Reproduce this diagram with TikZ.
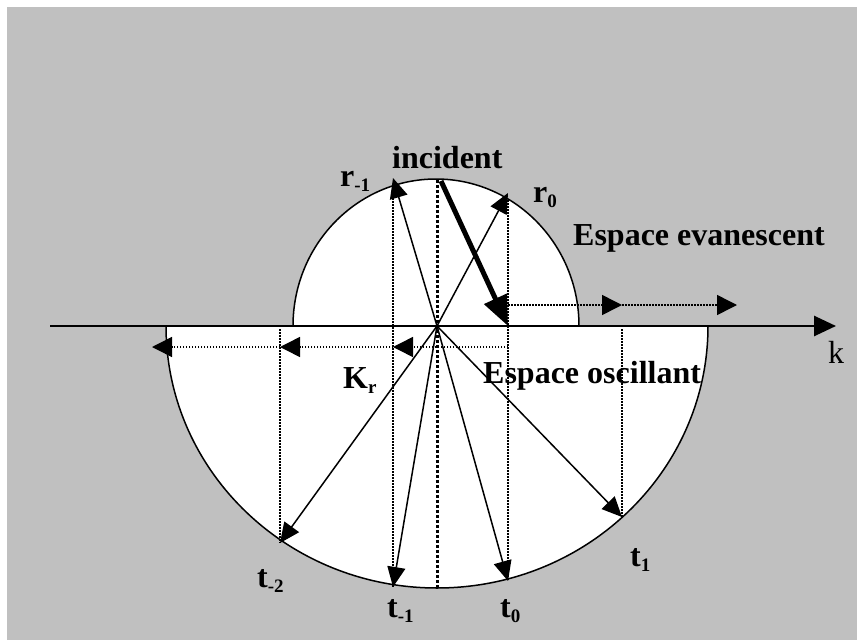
\documentclass[tikz,border=0pt]{standalone}
\usepackage{fontspec}
\setmainfont{Liberation Serif}
\usetikzlibrary{arrows.meta}
\definecolor{panelgray}{HTML}{C0C0C0}
\newcommand{\lbl}[2]{#1\raisebox{-5pt}{\fontsize{19}{20}\selectfont #2}}

\begin{document}
\begin{tikzpicture}[x=1pt,y=-1pt,
  vec/.style={line width=1.5pt,-{Triangle[length=20pt,width=18pt]}},
  proj/.style={line width=1.5pt,dash pattern=on 1.5pt off 1.5pt},
  projarrow/.style={proj,-{Triangle[length=20pt,width=20pt]}},
  tag/.style={font=\fontsize{32}{36}\selectfont\bfseries,inner sep=0pt,anchor=base west}]
  \useasboundingbox (0,0) rectangle (857,640);
  \fill[white] (0,0) rectangle (857,640);
  \fill[panelgray] (7,7) rectangle (857,640);
  % points
  \coordinate (O) at (437,326);
  \coordinate (rm1) at (393,178);
  \coordinate (r0) at (508,193);
  \coordinate (inc) at (441,181);
  \coordinate (incend) at (508,326);
  \coordinate (tm2) at (280,543);
  \coordinate (tm1) at (393,587);
  \coordinate (t0) at (508,581);
  \coordinate (t1) at (622,517);
  % the two half spaces
  \draw[line width=1.5pt,fill=white] (166,326) arc[start angle=180,end angle=0,x radius=271,y radius=262];
  \draw[line width=1.5pt,fill=white] (293,326) arc[start angle=180,end angle=360,x radius=143,y radius=147];
  % projections
  \draw[line width=3pt,dash pattern=on 2.5pt off 2.5pt] (437,180) -- (437,588);
  \draw[proj] (393,198) -- (tm1);
  \draw[proj] (508,200) -- (t0);
  \draw[proj] (280,329) -- (tm2);
  \draw[proj] (622,329) -- (t1);
  \coordinate (e0) at (508,305);
  \coordinate (e1) at (622,305);
  \coordinate (e2) at (737,305);
  \draw[projarrow] (e0) -- (e1);
  \draw[projarrow] (e1) -- (e2);
  \coordinate (o0) at (508,347);
  \coordinate (om1) at (393,347);
  \coordinate (om2) at (280,347);
  \coordinate (om3) at (152,347);
  \draw[projarrow] (o0) -- (om1);
  \draw[projarrow] (om1) -- (om2);
  \draw[projarrow] (om2) -- (om3);
  % axis
  \draw[line width=2.7pt,-{Triangle[length=22pt,width=20pt]}] (50,326) -- (836,326);
  % wave vectors
  \draw[vec] (O) -- (rm1);
  \draw[vec] (O) -- (r0);
  \draw[vec] (O) -- (tm2);
  \draw[vec] (O) -- (tm1);
  \draw[vec] (O) -- (t0);
  \draw[vec] (O) -- (t1);
  \draw[line width=5pt,-{Triangle[length=30pt,width=24pt]}] (inc) -- (incend);
  % labels
  \node[tag] (incl) at (392,168) {incident};
  \node[tag] (rm1l) at (340,186) {\lbl{r}{-1}};
  \node[tag] (r0l) at (533,202) {\lbl{r}{0}};
  \node[tag] (eva) at (573,245) {Espace evanescent};
  \node[tag] (osc) at (483,383) {Espace oscillant};
  \node[tag,font=\fontsize{32}{36}\selectfont] (kl) at (828,363) {k};
  \node[tag] (krl) at (343,388) {\lbl{K}{r}};
  \node[tag] (tm2l) at (257,587) {\lbl{t}{-2}};
  \node[tag] (tm1l) at (387,617) {\lbl{t}{-1}};
  \node[tag] (t0l) at (500,617) {\lbl{t}{0}};
  \node[tag] (t1l) at (630,566) {\lbl{t}{1}};
\end{tikzpicture}
\end{document}
